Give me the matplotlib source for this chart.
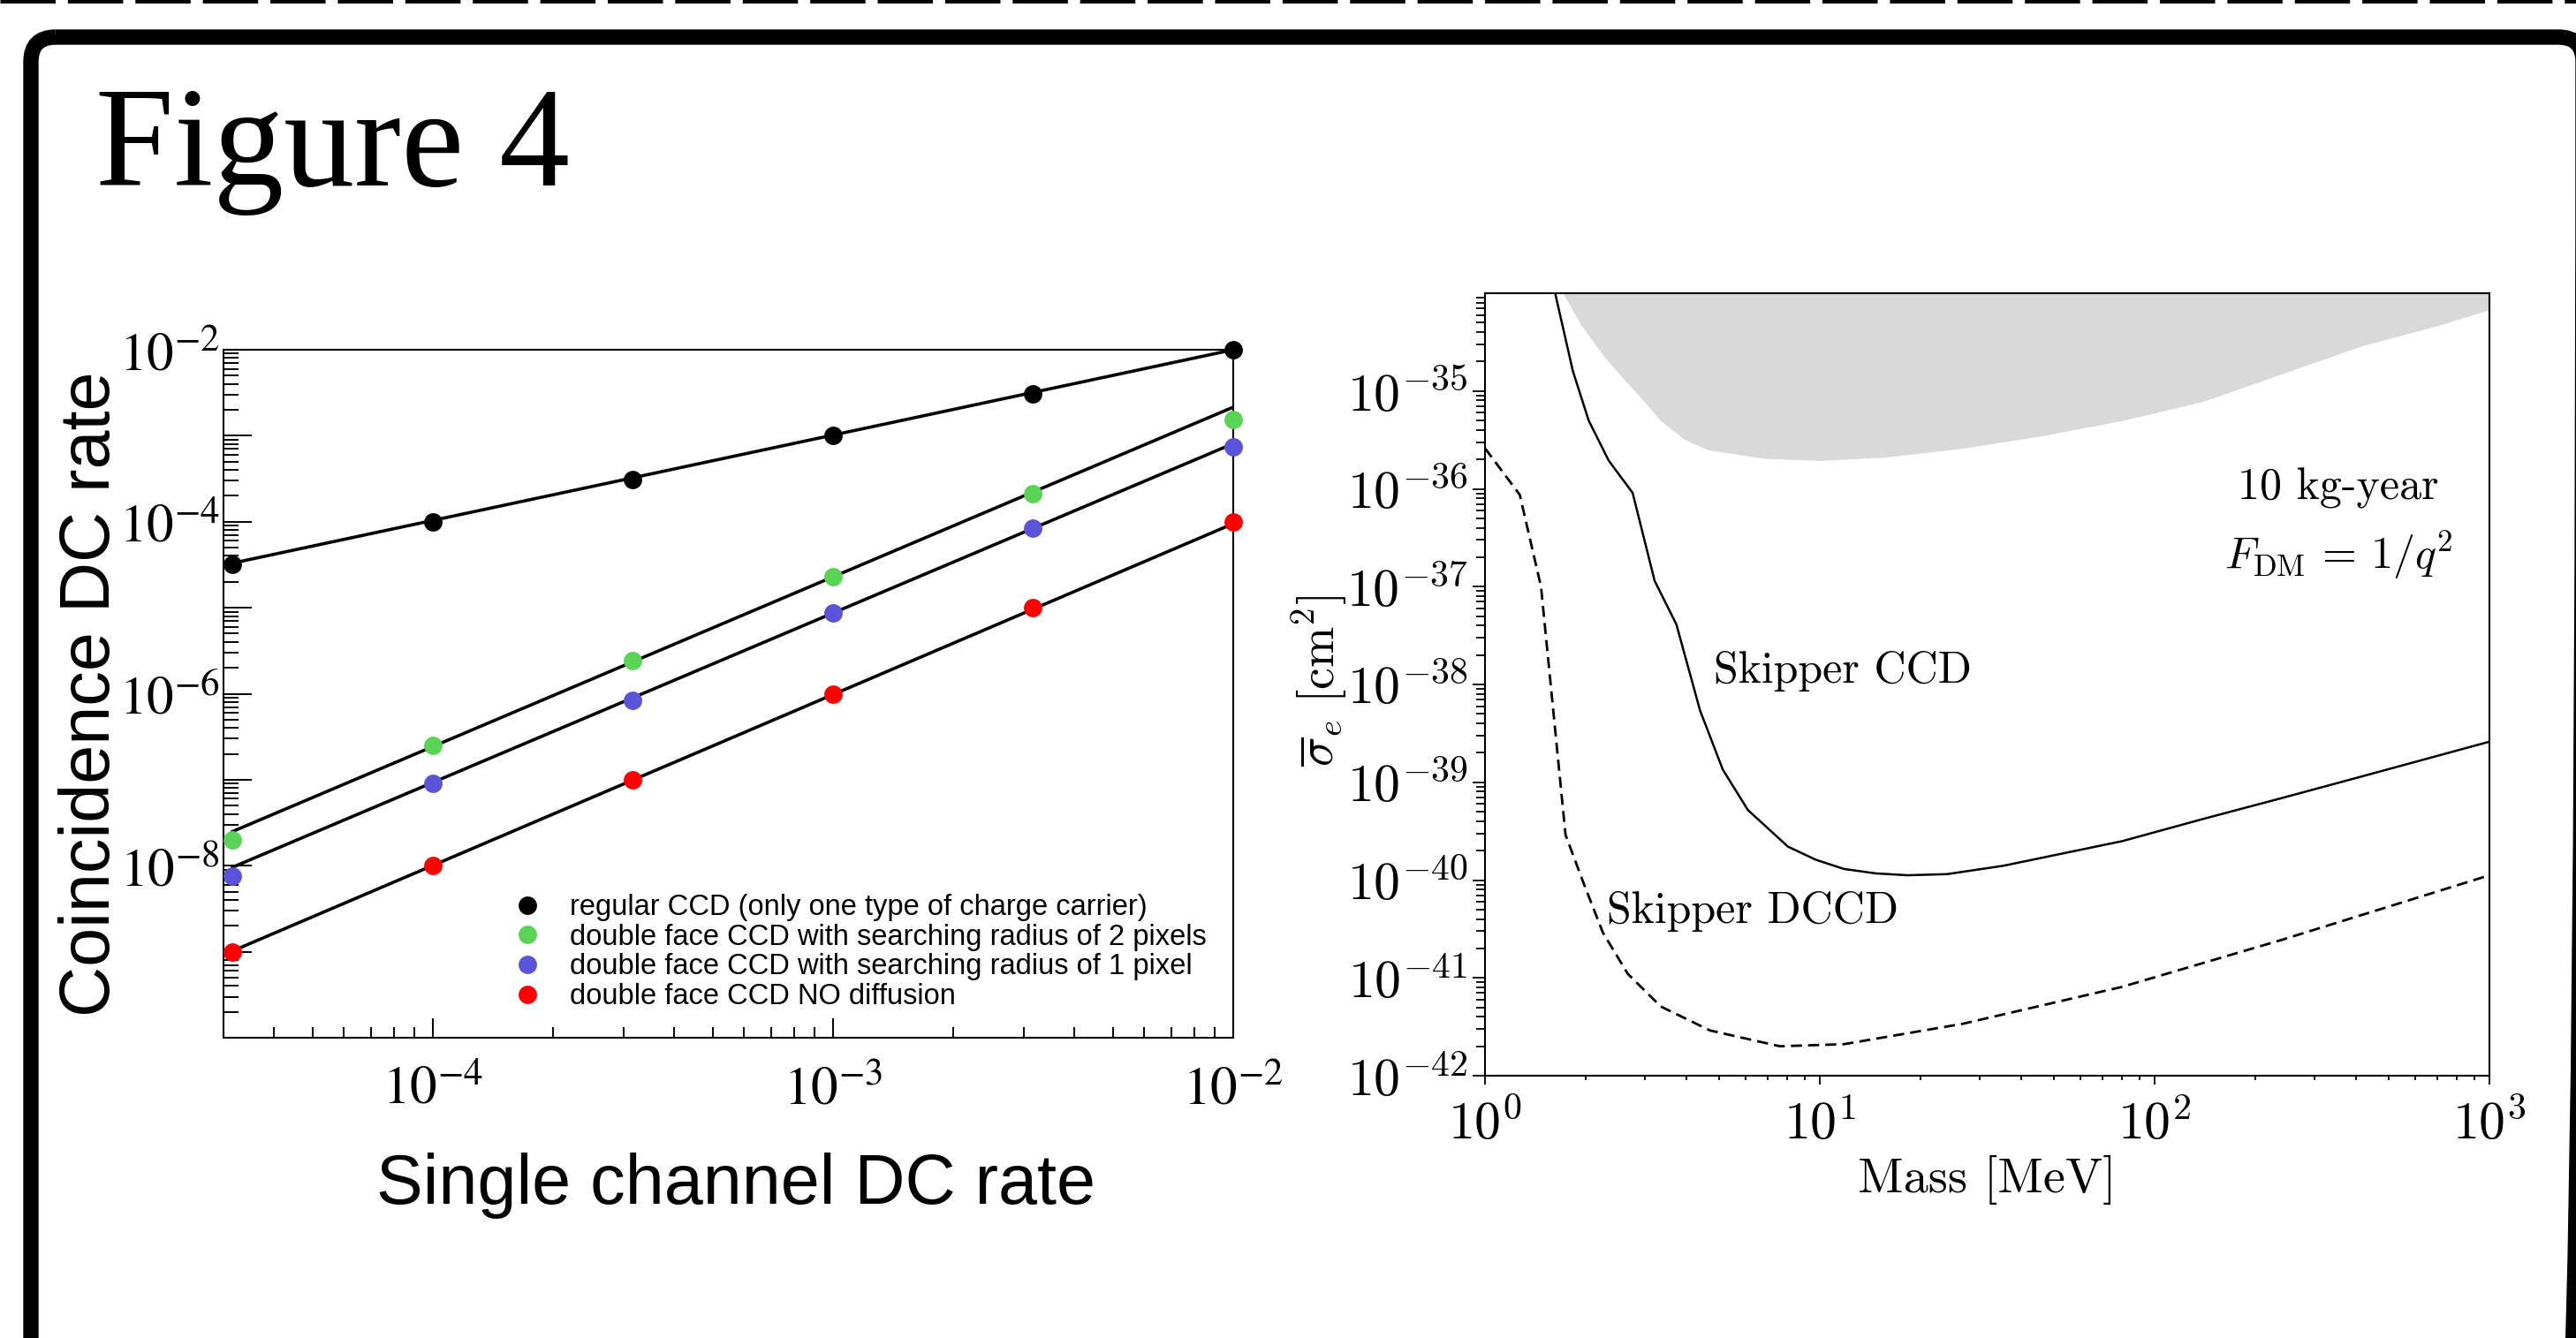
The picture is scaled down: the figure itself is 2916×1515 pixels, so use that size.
# === figura_4.py ===
import matplotlib.pyplot as plt
from matplotlib.patches import FancyBboxPatch
from matplotlib.ticker import LogLocator, NullFormatter

plt.rcParams['mathtext.fontset'] = 'stix'

# === 1. Datos del panel izquierdo ===
single_rate = [3.16e-5, 1.0e-4, 3.16e-4, 1.0e-3, 3.16e-3, 1.0e-2]
coinc_regular = [3.2e-5, 1.0e-4, 3.1e-4, 1.0e-3, 3.1e-3, 1.0e-2]
coinc_r2 = [2.0e-8, 2.5e-7, 2.45e-6, 2.3e-5, 2.1e-4, 1.55e-3]
coinc_r1 = [7.6e-9, 9.1e-8, 8.3e-7, 8.7e-6, 8.5e-5, 7.4e-4]
coinc_nodiff = [1.0e-9, 1.0e-8, 1.0e-7, 1.0e-6, 1.0e-5, 1.0e-4]

# rectas de ajuste (extremos)
fit_x = [3.16e-5, 1.0e-2]
fit_regular = [3.3e-5, 1.0e-2]
fit_r2 = [2.5e-8, 2.15e-3]
fit_r1 = [9.6e-9, 8.1e-4]
fit_nodiff = [1.02e-9, 9.5e-5]

labels_left = ['regular CCD (only one type of charge carrier)',
               'double face CCD with searching radius of 2 pixels',
               'double face CCD with searching radius of 1 pixel',
               'double face CCD NO diffusion']
colors_left = ['#000000', '#59d454', '#5954d9', '#ff0000']

# === 2. Datos del panel derecho ===
gray_mass = [1.71, 1.93, 2.28, 2.61, 2.99, 3.34, 3.94, 4.64, 6.81, 10.0, 15.5, 26.8, 46.4, 80.3,
             139, 240, 416, 720, 1000]
gray_sigma = [1.0e-34, 4.8e-35, 2.2e-35, 1.3e-35, 7.8e-36, 5.0e-36, 3.2e-36, 2.5e-36, 2.05e-36,
              1.95e-36, 2.1e-36, 2.6e-36, 3.5e-36, 5.0e-36, 7.8e-36, 1.5e-35, 2.9e-35, 4.8e-35,
              6.8e-35]

ccd_mass = [1.62, 1.83, 2.04, 2.34, 2.76, 3.21, 3.73, 4.39, 5.13, 6.1, 8.03, 9.7, 11.8, 14.7,
            18.3, 24, 35.3, 80, 139, 240, 417, 1000]
ccd_sigma = [1.0e-34, 1.6e-35, 5.0e-36, 1.95e-36, 9.1e-37, 1.15e-37, 4.1e-38, 5.4e-39, 1.35e-39,
             5.2e-40, 2.2e-40, 1.62e-40, 1.3e-40, 1.17e-40, 1.12e-40, 1.15e-40, 1.4e-40, 2.5e-40,
             4.2e-40, 6.9e-40, 1.15e-39, 2.6e-39]

dccd_mass = [1.0, 1.27, 1.47, 1.74, 1.97, 2.25, 2.67, 3.35, 4.7, 7.6, 11.8, 26.8, 80, 240, 1000]
dccd_sigma = [2.6e-36, 8.7e-37, 1.0e-37, 2.9e-40, 9.3e-41, 2.9e-41, 1.1e-41, 5.1e-42, 2.9e-42,
              2.0e-42, 2.1e-42, 3.4e-42, 8.1e-42, 2.45e-41, 1.12e-40]

W, H = 2916, 1515
fig = plt.figure(figsize=(W / 100, H / 100), dpi=100)


def axes_px(x0, y0, x1, y1):
    return fig.add_axes([x0 / W, 1 - y1 / H, (x1 - x0) / W, (y1 - y0) / H])


# === 3. Marco de la diapositiva ===
bg = fig.add_axes([0, 0, 1, 1], zorder=-1)
bg.set_xlim(0, W)
bg.set_ylim(H, 0)
bg.axis('off')
bg.add_patch(FancyBboxPatch((35, 42), 2924 - 35, 1700, boxstyle='round,pad=0,rounding_size=28',
                            fill=False, lw=12.5, ec='black'))
bg.plot([0, W], [0, 0], color='black', lw=5, linestyle=(0, (9, 2)))
fig.text(108 / W, 1 - 210 / H, 'Figure 4', family='Liberation Serif', fontsize=115,
         va='baseline', ha='left')

# === 4. Panel izquierdo ===
ax1 = axes_px(253, 396, 1396, 1175)
ax1.set_xscale('log')
ax1.set_yscale('log')
ax1.set_xlim(3.0e-5, 1.0e-2)
ax1.set_ylim(1e-10, 1e-2)

for fit_y in [fit_regular, fit_r2, fit_r1, fit_nodiff]:
    ax1.plot(fit_x, fit_y, color='black', lw=2.6, zorder=2)
for serie, lab, col in zip([coinc_regular, coinc_r2, coinc_r1, coinc_nodiff], labels_left, colors_left):
    ax1.plot(single_rate, serie, 'o', color=col, ms=15, mec='none', label=lab, zorder=3,
             clip_on=False)

ax1.set_xticks([1e-4, 1e-3, 1e-2], [r'$10^{-4}$', r'$10^{-3}$', r'$10^{-2}$'])
ytk = [1e-10, 1e-9, 1e-8, 1e-7, 1e-6, 1e-5, 1e-4, 1e-3, 1e-2]
ax1.set_yticks(ytk, ['', '', r'$10^{-8}$', '', r'$10^{-6}$', '', r'$10^{-4}$', '', r'$10^{-2}$'])
ax1.xaxis.set_minor_locator(LogLocator(base=10, subs=range(2, 10), numticks=50))
ax1.yaxis.set_minor_locator(LogLocator(base=10, subs=range(2, 10), numticks=50))
ax1.xaxis.set_minor_formatter(NullFormatter())
ax1.yaxis.set_minor_formatter(NullFormatter())
ax1.tick_params(which='both', direction='in', top=False, right=False, width=1.4, labelsize=44)
ax1.tick_params(axis='y', which='major', length=23, pad=3)
ax1.tick_params(axis='y', which='minor', length=12)
ax1.tick_params(axis='x', which='major', length=16, pad=21)
ax1.tick_params(axis='x', which='minor', length=8.5)
for s in ax1.spines.values():
    s.set_linewidth(1.5)

ax1.set_xlabel('Single channel DC rate', family='Liberation Sans', fontsize=57)
ax1.set_ylabel('Coincidence DC rate', family='Liberation Sans', fontsize=57)
ax1.xaxis.set_label_coords(0.507, -0.167)
ax1.yaxis.set_label_coords(-0.098, 0.5)

ax1.legend(loc='upper left', bbox_to_anchor=(0.272, 0.230), frameon=False, borderpad=0,
           handlelength=1.0, handletextpad=1.0, labelspacing=0.08,
           prop={'family': 'Liberation Sans', 'size': 23.5})

# === 5. Panel derecho ===
ax2 = axes_px(1681, 332, 2818, 1218)
ax2.set_xscale('log')
ax2.set_yscale('log')
ax2.set_xlim(1, 1000)
ax2.set_ylim(1e-42, 1e-34)

ax2.fill_between(gray_mass, gray_sigma, 1e-33, color='#d9d9d9', lw=0, zorder=1)
ax2.plot(ccd_mass, ccd_sigma, color='black', lw=1.8, zorder=2)
ax2.plot(dccd_mass, dccd_sigma, color='black', lw=2.0, dashes=(4.5, 2.5), zorder=2)

ax2.set_xticks([1, 10, 100, 1000], [r'$10^{0}$', r'$10^{1}$', r'$10^{2}$', r'$10^{3}$'])
ytk2 = [1e-42, 1e-41, 1e-40, 1e-39, 1e-38, 1e-37, 1e-36, 1e-35]
ax2.set_yticks(ytk2, [r'$10^{-%d}$' % n for n in range(42, 34, -1)])
ax2.xaxis.set_minor_locator(LogLocator(base=10, subs=range(2, 10), numticks=50))
ax2.yaxis.set_minor_locator(LogLocator(base=10, subs=range(2, 10), numticks=50))
ax2.xaxis.set_minor_formatter(NullFormatter())
ax2.yaxis.set_minor_formatter(NullFormatter())
ax2.tick_params(which='both', direction='out', top=False, right=False, width=1.3, labelsize=43)
ax2.tick_params(axis='y', which='major', length=10, pad=4)
ax2.tick_params(axis='y', which='minor', length=7)
ax2.tick_params(axis='x', which='major', length=7, pad=12)
ax2.tick_params(axis='x', which='minor', length=3.5)
for lbl in ax2.get_xticklabels() + ax2.get_yticklabels():
    lbl.set_math_fontfamily('cm')
for s in ax2.spines.values():
    s.set_linewidth(1.5)

ax2.set_xlabel('Mass [MeV]', family='cmr10', fontsize=40.5)
ax2.set_ylabel(r'$\overline{\sigma}_e\ [\mathrm{cm}^2]$', fontsize=40, math_fontfamily='cm')
ax2.xaxis.set_label_coords(0.5, -0.102)
ax2.yaxis.set_label_coords(-0.135, 0.505)

ax2.text(354, 1.02e-36, '10 kg-year', family='cmr10', fontsize=36, ha='center', va='center')
ax2.text(354, 2.1e-37, r'$F_{\mathrm{DM}} \,=\, 1/q^2$', math_fontfamily='cm', fontsize=36,
         ha='center', va='center')
ax2.text(4.82, 1.38e-38, 'Skipper CCD', family='cmr10', fontsize=36, ha='left', va='center')
ax2.text(2.31, 4.8e-41, 'Skipper DCCD', family='cmr10', fontsize=36, ha='left', va='center')

fig.savefig('out.png', dpi=100)
